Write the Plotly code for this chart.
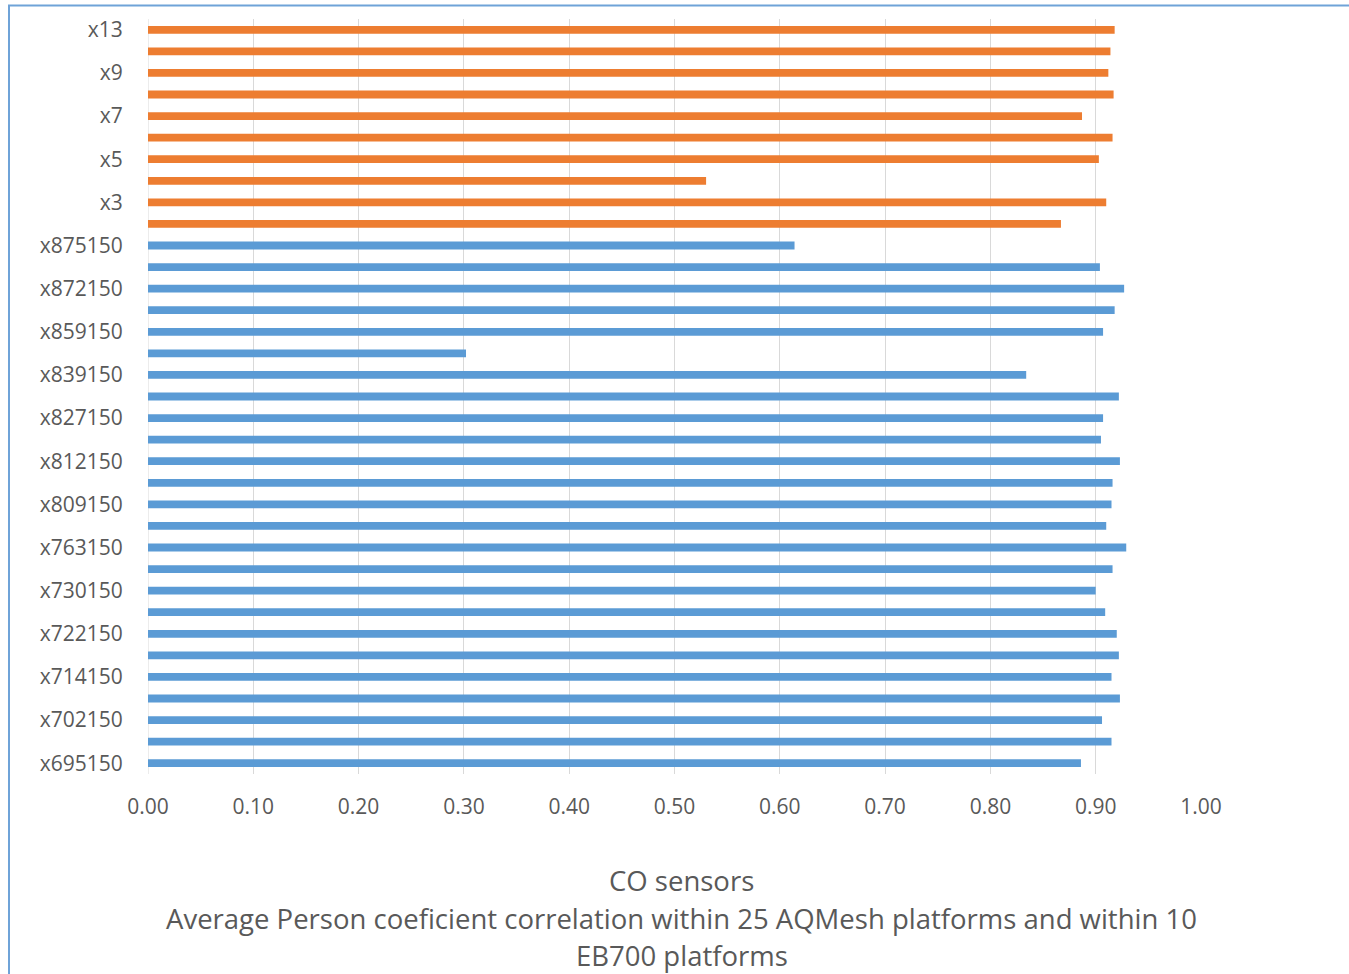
import plotly.graph_objects as go

aqmesh_sensors = ["x695150", "x698150", "x702150", "x710150", "x714150", "x718150",
                  "x722150", "x726150", "x730150", "x750150", "x763150", "x806150",
                  "x809150", "x811150", "x812150", "x820150", "x827150", "x830150",
                  "x839150", "x851150", "x859150", "x868150", "x872150", "x874150",
                  "x875150"]
aqmesh_values = [0.886, 0.915, 0.906, 0.923, 0.915, 0.922, 0.920, 0.909, 0.900, 0.916,
                 0.929, 0.910, 0.915, 0.916, 0.923, 0.905, 0.907, 0.922, 0.834, 0.302,
                 0.907, 0.918, 0.927, 0.904, 0.614]

eb700_sensors = ["x2", "x3", "x4", "x5", "x6", "x7", "x8", "x9", "x11", "x13"]
eb700_values = [0.867, 0.910, 0.530, 0.903, 0.916, 0.887, 0.917, 0.912, 0.914, 0.918]

shown_labels = ["x695150", "x702150", "x714150", "x722150", "x730150", "x763150",
                "x809150", "x812150", "x827150", "x839150", "x859150", "x872150",
                "x875150", "x3", "x5", "x7", "x9", "x13"]
x_ticks = [0.0, 0.1, 0.2, 0.3, 0.4, 0.5, 0.6, 0.7, 0.8, 0.9, 1.0]

title_lines = ["CO sensors",
               "Average Person coeficient correlation within 25 AQMesh platforms and within 10",
               "EB700 platforms"]

FONT = "Open Sans"
GREY = "#595959"

fig = go.Figure()
fig.add_trace(go.Bar(y=aqmesh_sensors, x=aqmesh_values, orientation="h",
                     marker=dict(color="#5B9BD5", line=dict(width=0)), name="AQMesh"))
fig.add_trace(go.Bar(y=eb700_sensors, x=eb700_values, orientation="h",
                     marker=dict(color="#ED7D31", line=dict(width=0)), name="EB700"))

L, R, T, B = 148, 148, 19, 200
W, H = 1349, 974
pw, ph = W - L - R, H - T - B

fig.update_layout(
    width=W, height=H,
    margin=dict(l=L, r=R, t=T, b=B),
    barmode="overlay", bargap=0.64,
    showlegend=False,
    plot_bgcolor="white", paper_bgcolor="white",
    font=dict(family=FONT, color=GREY),
    xaxis=dict(range=[0, 1.0], tickvals=x_ticks, ticktext=[f"{v:.2f}" for v in x_ticks],
               showgrid=True, gridcolor="#D9D9D9", gridwidth=1, zeroline=False,
               showline=False, ticks="outside", ticklen=14, tickcolor="rgba(0,0,0,0)",
               tickfont=dict(size=21, color=GREY, family=FONT)),
    yaxis=dict(type="category", categoryorder="array",
               categoryarray=aqmesh_sensors + eb700_sensors,
               tickmode="array", tickvals=shown_labels,
               showgrid=False, zeroline=False, showline=False,
               ticks="outside", ticklen=20, tickcolor="rgba(0,0,0,0)",
               tickfont=dict(size=21, color=GREY, family=FONT)),
)

# y-axis line at zero (grey, like gridlines)
fig.add_shape(type="line", xref="x", yref="paper", x0=0, x1=0, y0=0, y1=1,
              line=dict(color="#D9D9D9", width=1), layer="below")

# chart area border (Excel style)
fig.add_shape(type="rect", xref="paper", yref="paper",
              x0=(9 - L) / pw, x1=(W + 10 - L) / pw,
              y0=-(H + 10 - T - ph) / ph, y1=(ph + T - 5.5) / ph,
              line=dict(color="#6FA3D8", width=2), fillcolor="rgba(0,0,0,0)", layer="below")

ys = [106, 144, 181]
for txt, yy in zip(title_lines, ys):
    fig.add_annotation(text=txt, xref="paper", yref="paper", x=0.5, y=0,
                       xanchor="center", yanchor="middle", xshift=7, yshift=-yy,
                       showarrow=False, font=dict(size=27.5, color=GREY, family=FONT))

fig.write_html("out.html", config={"displayModeBar": False},
               post_script="document.body.style.margin='0';document.body.style.overflow='hidden';")
